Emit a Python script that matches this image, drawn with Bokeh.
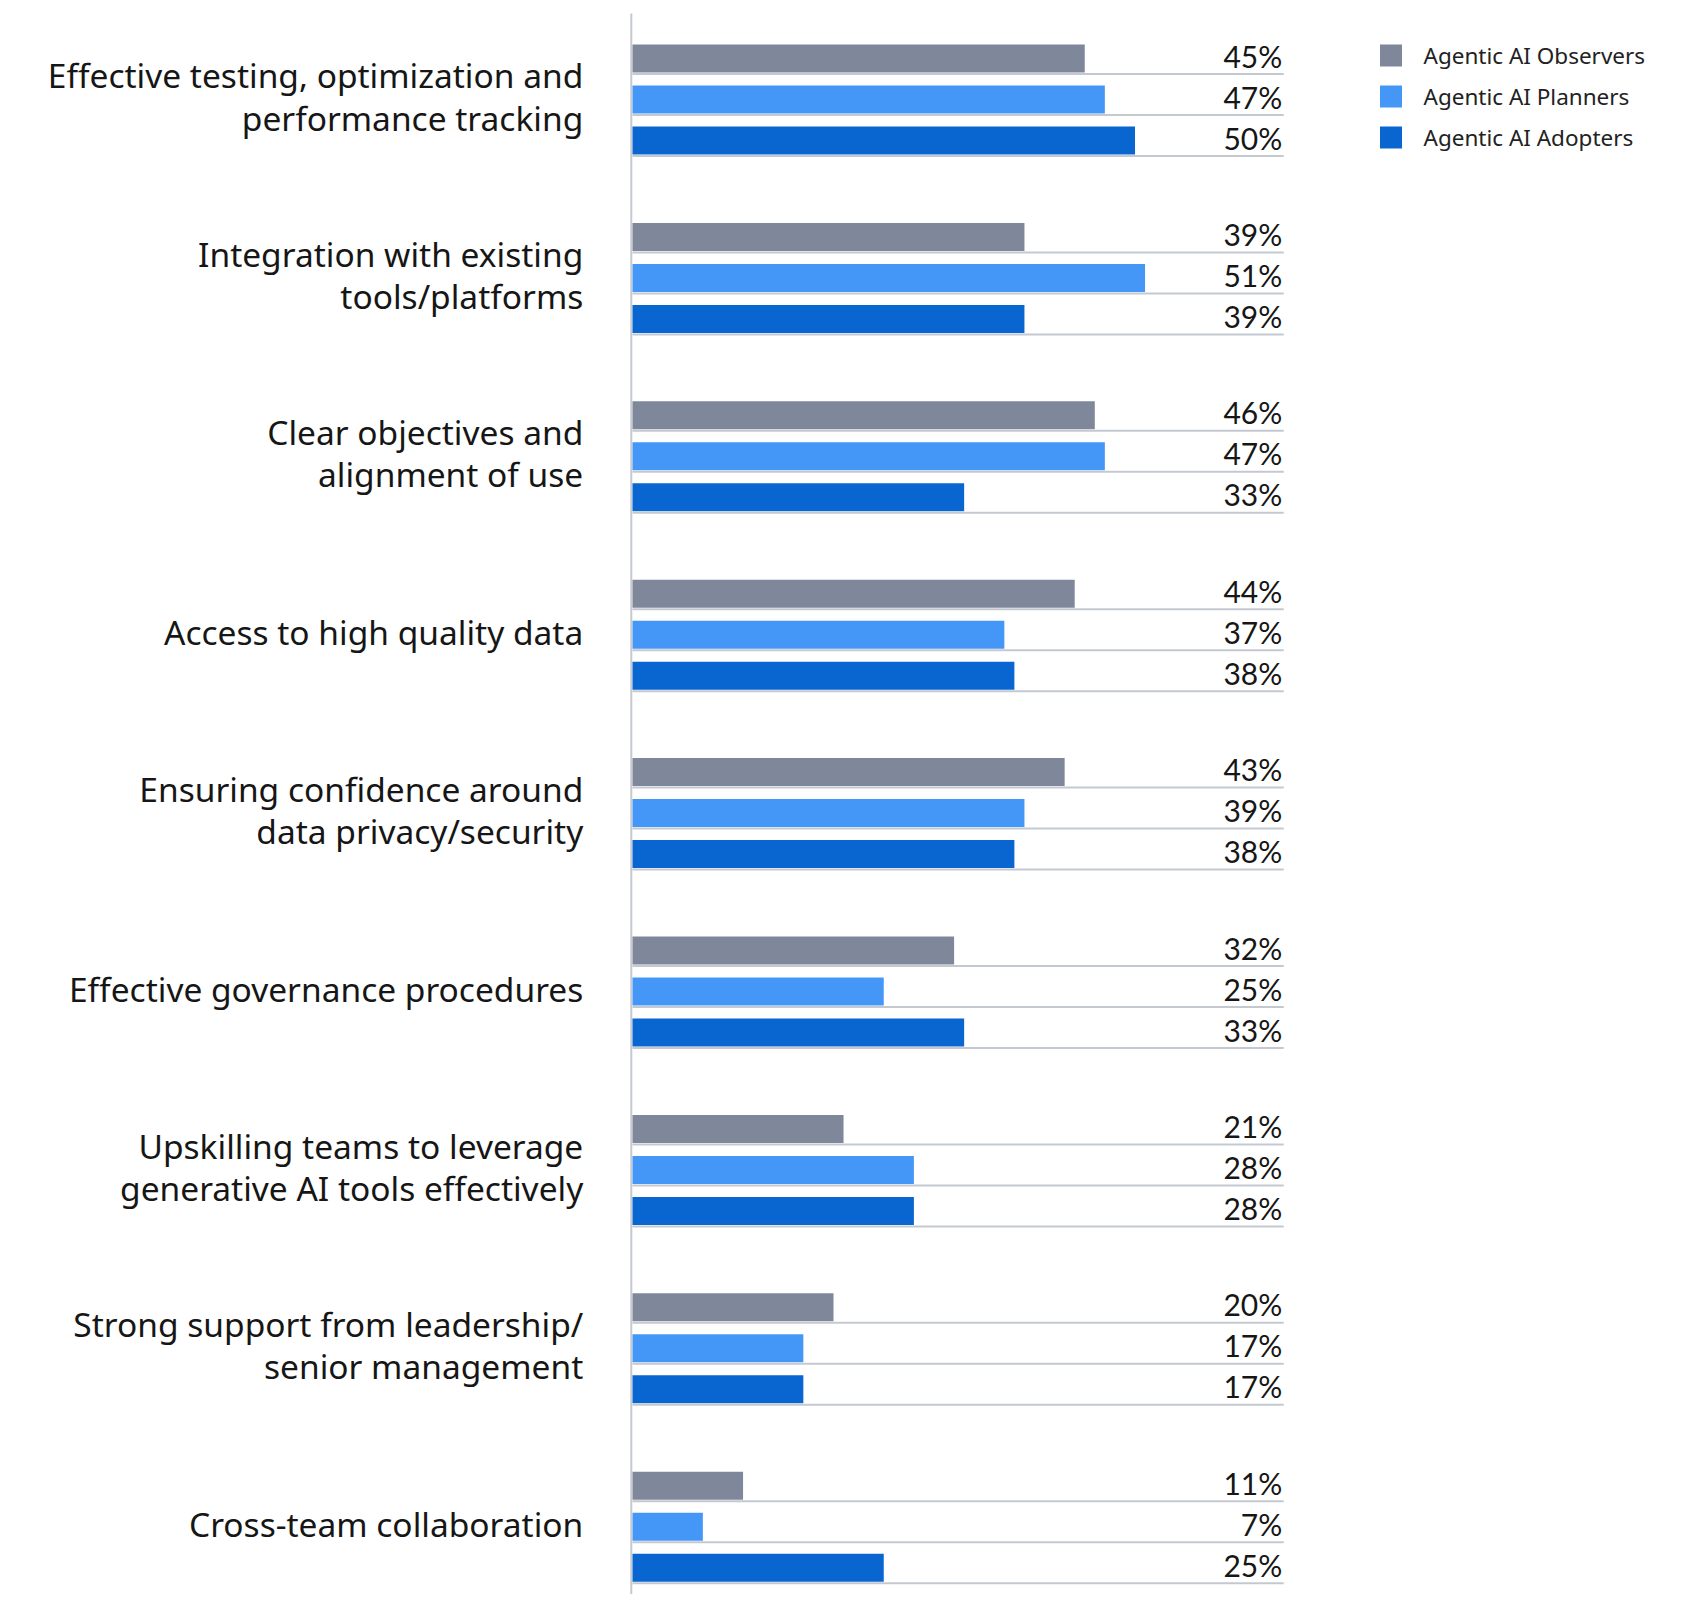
from bokeh.plotting import figure
from bokeh.models import Range1d, ColumnDataSource
from bokeh.core.properties import value
from bokeh.embed import file_html
from bokeh.resources import INLINE

categories = [
    "Effective testing, optimization and\nperformance tracking",
    "Integration with existing\ntools/platforms",
    "Clear objectives and\nalignment of use",
    "Access to high quality data",
    "Ensuring confidence around\ndata privacy/security",
    "Effective governance procedures",
    "Upskilling teams to leverage\ngenerative AI tools effectively",
    "Strong support from leadership/\nsenior management",
    "Cross-team collaboration",
]
series_names = ["Agentic AI Observers", "Agentic AI Planners", "Agentic AI Adopters"]
observers = [45, 39, 46, 44, 43, 32, 21, 20, 11]
planners = [47, 51, 47, 37, 39, 25, 28, 17, 7]
adopters = [50, 39, 33, 38, 38, 33, 28, 17, 25]

# layout constants (y axis runs top-down in pixels)
W, H = 1665, 1594
PX_PER_PCT = 10.05
X0_PX = 632
GROUP_TOP = 44
GROUP_PITCH = 178.4
BAR_PITCH = 41
BAR_H = 28
RULE_END = 64.8

colors = ["#7f889a", "#4597f7", "#0966d1"]
LABEL_FONT = "Noto Sans"
VALUE_FONT = "Lato"

x_start = -X0_PX / PX_PER_PCT
x_end = x_start + W / PX_PER_PCT

p = figure(width=W, height=H, output_backend="svg", toolbar_location=None,
           x_range=Range1d(x_start, x_end), y_range=Range1d(H, 0),
           min_border=0, outline_line_color=None)
p.xaxis.visible = False
p.yaxis.visible = False
p.grid.visible = False
p.background_fill_color = "white"
p.border_fill_color = "white"

# axis line
p.segment(x0=[-0.12], x1=[-0.12], y0=[13], y1=[H], line_color="#c5c9cf", line_width=2)

series = [observers, planners, adopters]
for j, (vals, col) in enumerate(zip(series, colors)):
    centers = [GROUP_TOP + i * GROUP_PITCH + j * BAR_PITCH + BAR_H / 2 for i in range(len(vals))]
    src = ColumnDataSource(dict(y=centers, v=vals,
                                lab=[f"{v}%" for v in vals],
                                rule=[c + BAR_H / 2 + 1.5 for c in centers],
                                ty=[c - 3 for c in centers]))
    p.hbar(y="y", left=0, right="v", height=BAR_H, fill_color=col, line_color=None, source=src)
    p.segment(x0=0, x1=RULE_END, y0="rule", y1="rule", line_color="#c4c9d1", line_width=2, source=src)
    p.text(x=RULE_END - 0.15, y="ty", text="lab", text_align="right", text_baseline="middle",
           text_font=value(VALUE_FONT), text_font_size="30px", text_color="#161616", source=src)

# category labels
cy = [GROUP_TOP + i * GROUP_PITCH + BAR_PITCH + BAR_H / 2 - 3 for i in range(len(categories))]
p.text(x=[-4.9] * len(categories), y=cy, text=categories, text_align="right",
       text_baseline="middle", text_font=value(LABEL_FONT), text_font_size="33.5px",
       text_color="#161616", text_line_height=0.92)

# legend
lx = (1390.5 - X0_PX) / PX_PER_PCT
tx = (1423 - X0_PX) / PX_PER_PCT
ly = [GROUP_TOP + k * BAR_PITCH + BAR_H / 2 - 3 for k in range(3)]
p.rect(x=[lx] * 3, y=ly, width=22, height=22, width_units="screen", height_units="screen",
       fill_color=colors, line_color=None)
p.text(x=[tx] * 3, y=ly, text=series_names, text_align="left", text_baseline="middle",
       text_font=value(LABEL_FONT), text_font_size="22.5px", text_color="#222222")

open("out.html", "w").write(file_html(p, INLINE))
